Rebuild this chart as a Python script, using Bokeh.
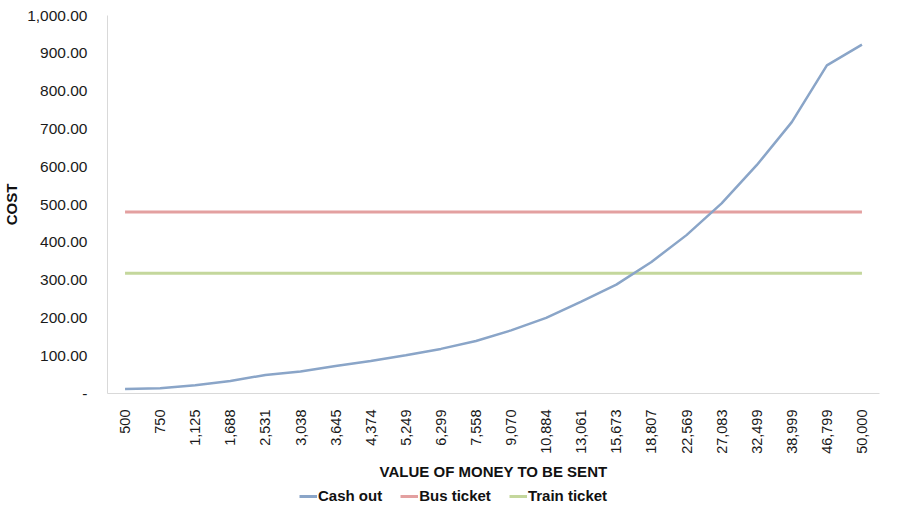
import math
from bokeh.plotting import figure
from bokeh.layouts import column
from bokeh.models import FactorRange, FixedTicker, NumeralTickFormatter, Legend, LegendItem, ColumnDataSource, Range1d
from bokeh.embed import file_html
from bokeh.resources import INLINE

categories = ["500", "750", "1,125", "1,688", "2,531", "3,038", "3,645", "4,374", "5,249", "6,299",
              "7,558", "9,070", "10,884", "13,061", "15,673", "18,807", "22,569", "27,083", "32,499",
              "38,999", "46,799", "50,000"]
cash_out = [12, 14, 22, 33, 49, 58, 73, 86, 101, 118, 139, 167, 200, 243, 288, 348, 419, 503, 604, 718, 868, 923]
bus_ticket = [480, 480, 480, 480, 480, 480, 480, 480, 480, 480, 480, 480, 480, 480, 480, 480, 480, 480, 480, 480, 480, 480]
train_ticket = [318, 318, 318, 318, 318, 318, 318, 318, 318, 318, 318, 318, 318, 318, 318, 318, 318, 318, 318, 318, 318, 318]
y_ticks = [0, 100, 200, 300, 400, 500, 600, 700, 800, 900, 1000]
series_names = ["Cash out", "Bus ticket", "Train ticket"]
series_colors = ["#8aa5c8", "#e3a0a0", "#c4d79c"]

src = ColumnDataSource(dict(x=categories, cash=cash_out, bus=bus_ticket, train=train_ticket))

FONT = "Liberation Sans"

p = figure(width=881, height=482, x_range=FactorRange(*categories), y_range=Range1d(0, 1000),
           output_backend="svg", toolbar_location=None,
           min_border_left=106, min_border_right=2, min_border_top=15, min_border_bottom=89)
p.outline_line_color = None
p.xgrid.visible = False
p.ygrid.visible = False

r_bus = p.line("x", "bus", source=src, line_color=series_colors[1], line_width=3)
r_train = p.line("x", "train", source=src, line_color=series_colors[2], line_width=3)
r_cash = p.line("x", "cash", source=src, line_color=series_colors[0], line_width=2.5)

# y axis
p.yaxis.ticker = FixedTicker(ticks=y_ticks)
p.yaxis.formatter = NumeralTickFormatter(format="0,0.00")
p.yaxis.major_label_overrides = {0: "-"}
p.yaxis.axis_label = "COST"
p.yaxis.axis_label_text_font = FONT
p.yaxis.axis_label_text_font_style = "bold"
p.yaxis.axis_label_text_font_size = "15px"
p.yaxis.axis_label_text_color = "#111111"
p.yaxis.axis_label_standoff = 4
p.yaxis.major_label_text_font = FONT
p.yaxis.major_label_text_font_size = "15.5px"
p.yaxis.major_label_text_color = "#1a1a1a"
p.yaxis.major_label_standoff = 14
p.yaxis.axis_line_color = "#d9d9d9"
p.yaxis.major_tick_line_color = None
p.yaxis.minor_tick_line_color = None

# x axis
p.xaxis.axis_label = "VALUE OF MONEY TO BE SENT"
p.xaxis.axis_label_text_font = FONT
p.xaxis.axis_label_text_font_style = "bold"
p.xaxis.axis_label_text_font_size = "15px"
p.xaxis.axis_label_text_color = "#111111"
p.xaxis.axis_label_standoff = 6
p.xaxis.major_label_text_font = FONT
p.xaxis.major_label_text_font_size = "14.5px"
p.xaxis.major_label_text_color = "#1a1a1a"
p.xaxis.major_label_orientation = math.pi / 2
p.xaxis.major_label_standoff = 10
p.xaxis.axis_line_color = "#d9d9d9"
p.xaxis.major_tick_line_color = None
p.xaxis.minor_tick_line_color = None

# legend strip
lg = figure(width=881, height=22, output_backend="svg", toolbar_location=None,
            x_range=Range1d(0, 1), y_range=Range1d(0, 1),
            min_border=0)
lg.axis.visible = False
lg.grid.visible = False
lg.outline_line_color = None
dummy = []
for name, col in zip(series_names, series_colors):
    dummy.append(lg.line(x=[-10, -9], y=[-10, -10], line_color=col, line_width=3))
legend = Legend(items=[LegendItem(label=n, renderers=[r]) for n, r in zip(series_names, dummy)],
                orientation="horizontal", location=(192, 0),
                label_text_font=FONT, label_text_font_style="bold", label_text_font_size="15px",
                label_text_color="#111111",
                glyph_width=18, glyph_height=12, label_standoff=1, spacing=18,
                padding=2, margin=0, border_line_color=None, background_fill_alpha=0)
lg.add_layout(legend, "center")

layout = column(p, lg, spacing=0)
open("out.html", "w").write(file_html(layout, INLINE))
